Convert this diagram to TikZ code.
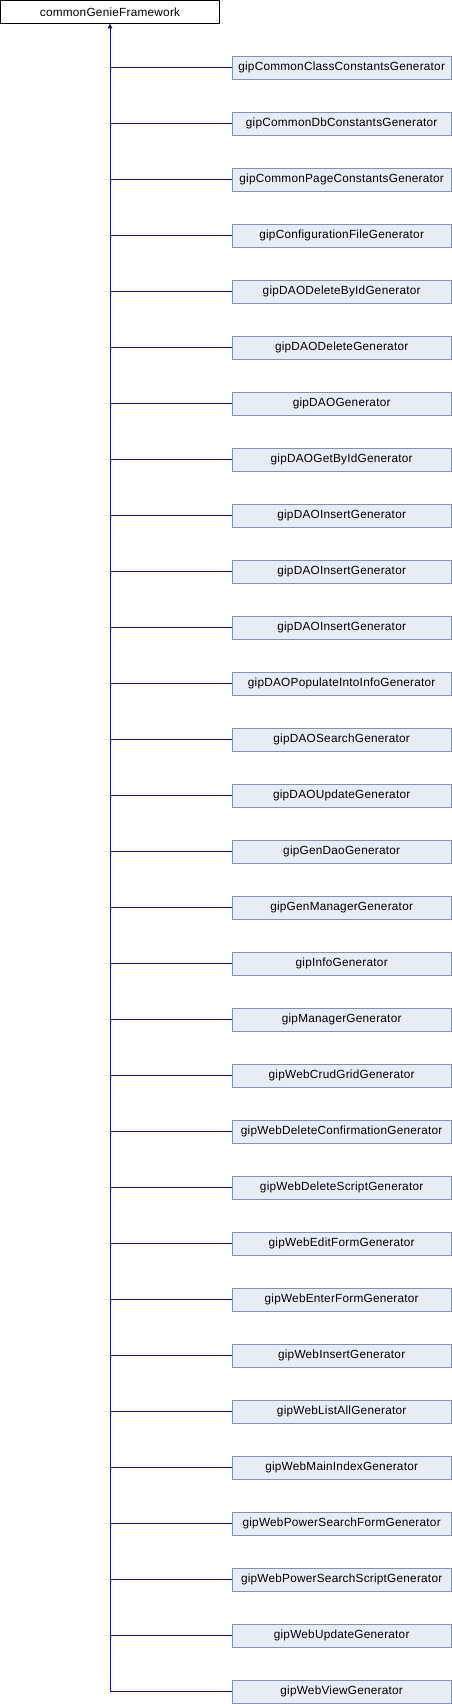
\documentclass[tikz,border=0pt]{standalone}
\usepackage{fontspec}
\setmainfont{Liberation Sans}[LetterSpace=2]
\usetikzlibrary{arrows.meta}
\definecolor{edgeblue}{RGB}{20,20,140}
\definecolor{boxfill}{RGB}{232,236,244}
\definecolor{boxdraw}{RGB}{125,145,200}
\tikzset{
  base/.style={draw=black, fill=white, line width=0.8pt, minimum width=219pt, minimum height=22.5pt, inner sep=0pt, font=\fontsize{11.8pt}{14pt}\selectfont},
  child/.style={draw=boxdraw, fill=boxfill, line width=0.8pt, minimum width=219.5pt, minimum height=22.5pt, inner sep=0pt, anchor=west, font=\fontsize{11.8pt}{14pt}\selectfont},
  edge/.style={draw=edgeblue, line width=1pt},
}
\begin{document}
\begin{tikzpicture}[x=1pt,y=1pt]
\useasboundingbox (0,0) rectangle (452,-1704);
\node[base] (top) at (110,-11.8) {commonGenieFramework};
\foreach \name [count=\i] in {gipCommonClassConstantsGenerator,gipCommonDbConstantsGenerator,gipCommonPageConstantsGenerator,gipConfigurationFileGenerator,gipDAODeleteByIdGenerator,gipDAODeleteGenerator,gipDAOGenerator,gipDAOGetByIdGenerator,gipDAOInsertGenerator,gipDAOInsertGenerator,gipDAOInsertGenerator,gipDAOPopulateIntoInfoGenerator,gipDAOSearchGenerator,gipDAOUpdateGenerator,gipGenDaoGenerator,gipGenManagerGenerator,gipInfoGenerator,gipManagerGenerator,gipWebCrudGridGenerator,gipWebDeleteConfirmationGenerator,gipWebDeleteScriptGenerator,gipWebEditFormGenerator,gipWebEnterFormGenerator,gipWebInsertGenerator,gipWebListAllGenerator,gipWebMainIndexGenerator,gipWebPowerSearchFormGenerator,gipWebPowerSearchScriptGenerator,gipWebUpdateGenerator,gipWebViewGenerator}{
  \pgfmathsetmacro{\yy}{-67.8-56*(\i-1)}
  \node[child] (c\i) at (231.5,\yy) {\name};
  \coordinate (j\i) at (110,\yy);
  \draw[edge] (j\i) -- (c\i.west);
}
\draw[edge, -{Triangle[length=5pt,width=4.5pt]}] (j30) -- (top.south);
\end{tikzpicture}
\end{document}
